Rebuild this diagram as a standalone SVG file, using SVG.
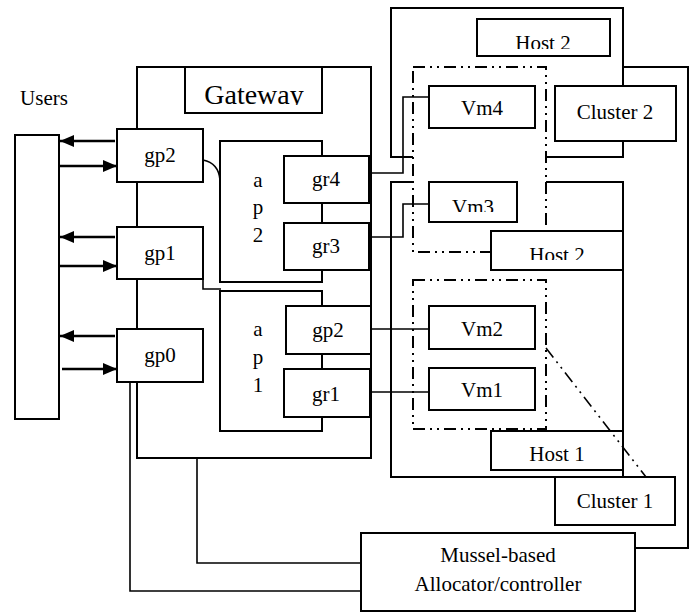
<svg xmlns="http://www.w3.org/2000/svg" width="696" height="612" viewBox="0 0 696 612" font-family="'Liberation Serif', 'DejaVu Serif', serif">
<style>
.b{fill:#fff;stroke:#000;stroke-width:2}
.l{fill:none;stroke:#000;stroke-width:1.6}
.d{fill:#fff;stroke:#000;stroke-width:2;stroke-dasharray:12,5,2,5,2,5}
.dl{fill:none;stroke:#000;stroke-width:1.6;stroke-dasharray:12,5,2,5,2,5}
.a{fill:none;stroke:#000;stroke-width:2.4}
text{font-family:'Liberation Serif','DejaVu Serif',serif;font-size:21px;fill:#000;text-anchor:middle}
</style>
<defs>
<marker id="ah2" viewBox="0 0 14 12" refX="14" refY="6" markerWidth="14" markerHeight="12" orient="auto" markerUnits="userSpaceOnUse">
<path d="M0,0 L14,6 L0,12 Z" fill="#000"/>
</marker>
<clipPath id="cGw"><rect x="185" y="67" width="137" height="38"/></clipPath>
<clipPath id="cH2a"><rect x="477" y="19" width="133" height="30"/></clipPath>
<clipPath id="cVm3"><rect x="429" y="182" width="88" height="30"/></clipPath>
<clipPath id="cH2b"><rect x="491" y="231" width="132" height="29"/></clipPath>
</defs>

<g id="outer">
<polyline class="l" points="623,67 688,67 688,548 635,548" style="stroke-width:2"/>
</g>

<g id="cluster2">
<rect class="b" x="391" y="8" width="232" height="149"/>
</g>
<g id="cluster1box">
<rect class="b" x="391" y="182" width="232" height="295"/>
</g>

<g id="host2group">
<rect class="d" x="413" y="67" width="133" height="185"/>
</g>
<g id="host1group">
<rect class="d" x="413" y="280" width="133" height="149"/>
</g>

<g id="host2-top">
<rect class="b" x="477" y="19" width="133" height="37"/>
<text x="543" y="50" clip-path="url(#cH2a)">Host 2</text>
</g>
<g id="cluster2-label">
<rect class="b" x="555" y="86" width="121" height="55"/>
<text x="615" y="119">Cluster 2</text>
</g>
<g id="vm4">
<rect class="b" x="429" y="86" width="106" height="42"/>
<text x="482" y="115">Vm4</text>
</g>
<g id="vm3">
<rect class="b" x="429" y="182" width="88" height="40"/>
<text x="473" y="214" clip-path="url(#cVm3)">Vm3</text>
</g>
<g id="host2-bottom">
<rect class="b" x="491" y="231" width="132" height="39"/>
<text x="557" y="262" clip-path="url(#cH2b)">Host 2</text>
</g>
<g id="vm2">
<rect class="b" x="429" y="306" width="106" height="43"/>
<text x="482" y="336">Vm2</text>
</g>
<g id="vm1">
<rect class="b" x="429" y="368" width="106" height="42"/>
<text x="482" y="397">Vm1</text>
</g>
<g id="host1">
<rect class="b" x="491" y="431" width="132" height="39"/>
<text x="557" y="461">Host 1</text>
</g>
<g id="cluster1">
<rect class="b" x="555" y="477" width="120" height="48"/>
<text x="615" y="508">Cluster 1</text>
</g>

<g id="gateway">
<rect class="b" x="137" y="67" width="234" height="391"/>
</g>
<g id="gateway-label">
<rect class="b" x="185" y="67" width="137" height="46"/>
<text x="254" y="104" style="font-size:28px" clip-path="url(#cGw)">Gateway</text>
</g>

<g id="ap2">
<rect class="b" x="220" y="141" width="102" height="141"/>
<text x="258" y="187">a</text>
<text x="258" y="214">p</text>
<text x="258" y="242">2</text>
</g>
<g id="ap1">
<rect class="b" x="220" y="291" width="102" height="140"/>
<text x="258" y="336">a</text>
<text x="258" y="364">p</text>
<text x="258" y="392">1</text>
</g>

<g id="gr4">
<rect class="b" x="284" y="156" width="85" height="47"/>
<text x="326" y="186">gr4</text>
</g>
<g id="gr3">
<rect class="b" x="284" y="223" width="85" height="47"/>
<text x="326" y="253">gr3</text>
</g>
<g id="gp2-inner">
<rect class="b" x="286" y="306" width="85" height="48"/>
<text x="328" y="337">gp2</text>
</g>
<g id="gr1">
<rect class="b" x="284" y="369" width="86" height="48"/>
<text x="326" y="401">gr1</text>
</g>

<g id="gp2">
<rect class="b" x="117" y="129" width="86" height="53"/>
<text x="160" y="162">gp2</text>
</g>
<g id="gp1">
<rect class="b" x="117" y="227" width="86" height="52"/>
<text x="160" y="260">gp1</text>
</g>
<g id="gp0">
<rect class="b" x="117" y="329" width="86" height="53"/>
<text x="160" y="362">gp0</text>
</g>

<g id="users">
<rect class="b" x="15" y="135" width="44" height="284"/>
<text x="44" y="105">Users</text>
</g>

<g id="allocator">
<rect class="b" x="361" y="533" width="274" height="78"/>
<text x="498" y="562">Mussel-based</text>
<text x="498" y="591">Allocator/controller</text>
</g>

<g id="connectors">
<line class="a" x1="115" y1="141" x2="60" y2="141" marker-end="url(#ah2)"/>
<line class="a" x1="59" y1="166" x2="117" y2="166" marker-end="url(#ah2)"/>
<line class="a" x1="115" y1="237" x2="60" y2="237" marker-end="url(#ah2)"/>
<line class="a" x1="59" y1="266" x2="117" y2="266" marker-end="url(#ah2)"/>
<line class="a" x1="115" y1="336" x2="60" y2="336" marker-end="url(#ah2)"/>
<line class="a" x1="62" y1="369" x2="117" y2="369" marker-end="url(#ah2)"/>
<path class="l" d="M203,160 C213,162 219,168 220,180"/>
<polyline class="l" points="203,279 203,289 221,289"/>
<polyline class="l" points="130,382 130,591 361,591"/>
<polyline class="l" points="197,458 197,563 361,563"/>
<polyline class="l" points="369,173 403,173 403,97 429,97"/>
<polyline class="l" points="369,237 403,237 403,204 429,204"/>
<line class="l" x1="371" y1="329" x2="429" y2="329"/>
<line class="l" x1="370" y1="392" x2="429" y2="392"/>
<line class="dl" x1="546" y1="348" x2="646" y2="477"/>
</g>
</svg>
